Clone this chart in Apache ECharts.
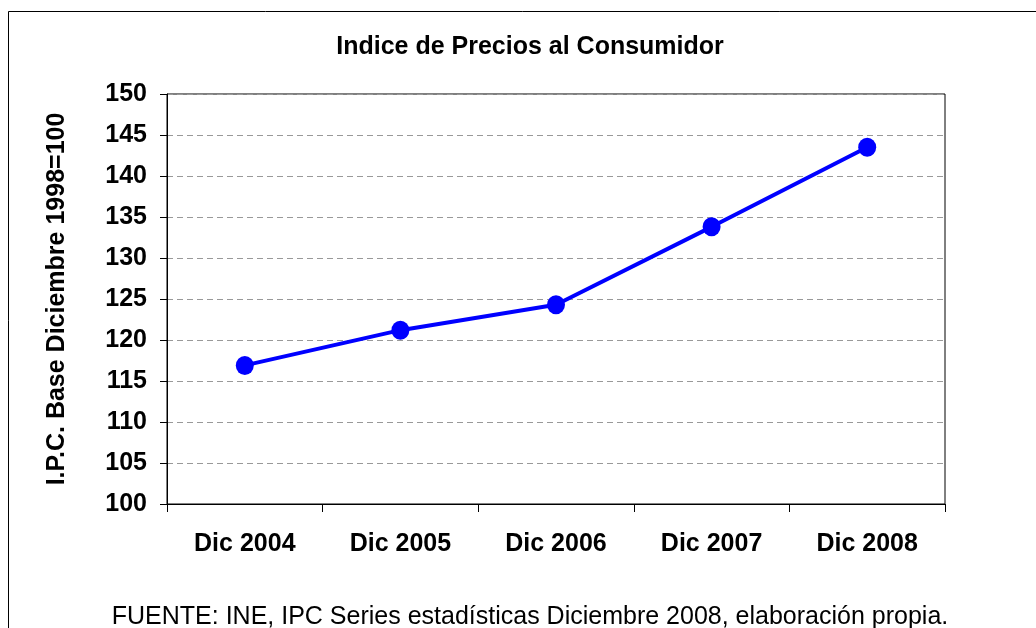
<!DOCTYPE html>
<html>
<head>
<meta charset="utf-8">
<script src="https://cdn.jsdelivr.net/npm/echarts@6/dist/echarts.min.js"></script>
<style>
  html, body { margin: 0; padding: 0; background: #fff; }
  #chart-container { width: 1036px; height: 628px; }
</style>
</head>
<body>
<div id="chart-container"></div>
<script>
// datos
var categorias = ['Dic 2004', 'Dic 2005', 'Dic 2006', 'Dic 2007', 'Dic 2008'];
var valoresIPC = [116.9, 121.2, 124.3, 133.8, 143.5];
var ejeY = { min: 100, max: 150, interval: 5 };

var chartDom = document.getElementById('chart-container');
var myChart = echarts.init(chartDom);
var option;

var fuente = 'Arial, "Liberation Sans", sans-serif';

option = {
	backgroundColor: '#fff',
	animation: false,
	graphic: [
		{
			type: 'rect',
			shape: { x: 8.5, y: 11.5, width: 1050, height: 700 },
			style: { fill: 'none', stroke: '#000', lineWidth: 1 },
			silent: true
		},
		{
			// título
			type: 'text',
			x: 530,
			y: 47,
			style: {
				text: 'Indice de Precios al Consumidor',
				fill: '#000',
				font: 'bold 25px ' + fuente,
				align: 'center',
				verticalAlign: 'middle'
			}
		},
		{
			// fuente
			type: 'text',
			x: 530,
			y: 617,
			style: {
				text: 'FUENTE: INE, IPC Series estadísticas Diciembre 2008, elaboración propia.',
				fill: '#000',
				font: '25px ' + fuente,
				align: 'center',
				verticalAlign: 'middle'
			}
		}
	],
	grid: {
		left: 167,
		right: 91,
		top: 94,
		bottom: 124,
		show: true,
		borderColor: '#000',
		borderWidth: 1
	},
	xAxis: {
		type: 'category',
		data: categorias,
		boundaryGap: true,
		axisLine: { lineStyle: { color: '#000', width: 1 } },
		axisTick: { show: true, alignWithLabel: false, length: 8, lineStyle: { color: '#000' } },
		axisLabel: {
			color: '#000',
			fontSize: 25,
			fontWeight: 'bold',
			fontFamily: fuente,
			margin: 28
		},
		splitLine: { show: false }
	},
	yAxis: {
		type: 'value',
		min: ejeY.min,
		max: ejeY.max,
		interval: ejeY.interval,
		name: 'I.P.C. Base Diciembre 1998=100',
		nameLocation: 'middle',
		nameGap: 97,
		nameRotate: 90,
		nameTextStyle: {
			color: '#000',
			fontSize: 25,
			fontWeight: 'bold',
			fontFamily: fuente
		},
		axisLine: { show: true, lineStyle: { color: '#000', width: 1 } },
		axisTick: { show: true, length: 7, lineStyle: { color: '#000' } },
		axisLabel: {
			color: '#000',
			fontSize: 25,
			fontWeight: 'bold',
			fontFamily: fuente,
			margin: 20
		},
		splitLine: {
			show: true,
			lineStyle: { color: '#999', type: [6, 4], width: 1 }
		}
	},
	series: [
		{
			type: 'line',
			data: valoresIPC,
			symbol: 'circle',
			symbolSize: [18, 19],
			lineStyle: { color: '#0000ff', width: 4 },
			itemStyle: { color: '#0000ff' }
		}
	]
};

myChart.setOption(option);

window.addEventListener('resize', function() {
	myChart.resize();
});
</script>
</body>
</html>
